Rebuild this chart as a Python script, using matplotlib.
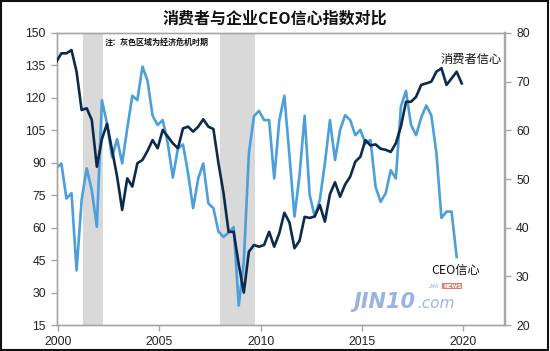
import matplotlib
matplotlib.use('Agg')
import matplotlib.pyplot as plt
from matplotlib.patches import Rectangle

# quarterly readings, first point Dec 1999
consumer = [136.7, 140.6, 140.6, 142.1, 132.1, 114.4, 115.2, 109.8, 88.2, 101.0,
            108.0, 95.9, 83.6, 68.2, 82.8, 79.0, 89.8, 91.3, 95.5, 100.5,
            96.7, 105.2, 102.1, 99.0, 96.7, 105.9, 106.7, 104.4, 106.7, 110.1,
            106.7, 105.6, 89.8, 75.9, 58.1, 58.1, 43.0, 30.0, 48.9, 52.0,
            51.2, 52.0, 58.1, 51.2, 57.4, 66.9, 62.5, 50.5, 54.0, 65.0,
            64.5, 65.2, 70.5, 62.8, 75.5, 81.0, 74.3, 80.0, 83.6, 90.5,
            92.8, 100.5, 98.0, 98.5, 96.5, 96.0, 95.0, 99.0, 106.7, 118.2,
            118.2, 120.5, 126.0, 126.7, 127.5, 132.1, 133.7, 126.0, 129.0, 132.1,
            126.7]
ceo = [52.2, 53.2, 46.0, 47.1, 31.2, 45.7, 52.2, 47.7, 40.2, 66.2,
       61.4, 54.5, 58.2, 53.2, 60.4, 67.1, 66.2, 73.1, 70.2, 63.0,
       61.1, 62.1, 57.3, 50.3, 56.3, 57.1, 51.2, 44.0, 50.1, 53.2,
       45.0, 44.0, 39.2, 38.1, 39.0, 40.1, 24.0, 33.0, 55.3, 62.9,
       64.0, 62.1, 62.1, 50.1, 62.0, 67.1, 54.9, 42.3, 50.8, 63.0,
       46.7, 42.3, 45.7, 53.2, 62.1, 53.9, 60.1, 63.1, 62.1, 59.0,
       60.1, 57.3, 58.0, 48.4, 45.3, 47.1, 51.8, 50.1, 64.9, 68.1,
       61.1, 59.0, 62.6, 65.1, 63.1, 55.4, 42.0, 43.3, 43.3, 34.0]
t_cons = [1999 + 11 / 12 + 0.25 * i for i in range(len(consumer))]
t_ceo = [1999 + 11 / 12 + 0.25 * i for i in range(len(ceo))]

recessions = [(2001.24, 2002.21), (2008.0, 2009.72)]
left_ticks = list(range(15, 151, 15))
right_ticks = list(range(20, 81, 10))
year_ticks = [2000, 2005, 2010, 2015, 2020]

cjk = ['Noto Sans CJK SC', 'DejaVu Sans']
navy = '#0c2a4c'
light = '#4b9fdb'
grey = '#a6a6a6'

fig = plt.figure(figsize=(5.5, 3.51), dpi=100)
ax = fig.add_axes([0.1036, 0.074, 0.8145, 0.832])
ax2 = ax.twinx()
ax.set_zorder(ax2.get_zorder() + 1)
ax.patch.set_visible(False)

for a, b in recessions:
    ax2.axvspan(a, b, color='#d9d9d9', lw=0, zorder=0)

ax2.plot(t_ceo, ceo, color=light, lw=1.9, zorder=2)
ax.plot(t_cons, consumer, color=navy, lw=1.9, zorder=3)

ax.set_xlim(1999.95, 2022.05)
ax.set_ylim(15, 150)
ax2.set_ylim(20, 80)
ax.set_xticks(year_ticks)
ax.set_yticks(left_ticks)
ax2.set_yticks(right_ticks)

for a in (ax, ax2):
    for s in a.spines.values():
        s.set_color(grey)
        s.set_linewidth(1.0)
    a.spines['right'].set_linewidth(1.6)
    a.tick_params(colors=grey, length=4, width=1.0, labelcolor='#222222',
                  labelsize=8.8, pad=4)
    for lab in a.get_xticklabels() + a.get_yticklabels():
        lab.set_family('Liberation Sans')

fig.text(0.5, 0.948, '消费者与企业CEO信心指数对比', ha='center', va='center',
         fontsize=11.5, fontweight='bold', family=cjk, color='#111111')
ax.text(2002.3, 145.5, '注：灰色区域为经济危机时期', ha='left', va='center',
        fontsize=5.8, fontweight='bold', family=cjk, color='#111111')
ax2.text(2020.4, 74.5, '消费者信心', ha='center', va='center',
         fontsize=8.8, family=cjk, color='#111111')
ax2.text(2019.6, 31.2, 'CEO信心', ha='center', va='center',
         fontsize=8.8, family=cjk, color='#111111')

# watermark
ax2.text(2014.6, 24.8, 'JIN10', ha='left', va='center', fontsize=15,
         fontweight='bold', style='italic', family='DejaVu Sans',
         color='#8aa6e0', alpha=0.85)
ax2.text(2017.7, 24.5, '.com', ha='left', va='center', fontsize=11,
         style='italic', family='DejaVu Sans', color='#8aa6e0', alpha=0.85)
ax2.text(2018.3, 28.0, '24h', ha='left', va='center', fontsize=4,
         style='italic', color='#8aa6e0')
ax2.text(2019.0, 28.0, 'NEWS', ha='left', va='center', fontsize=4,
         fontweight='bold', color='white',
         bbox=dict(boxstyle='square,pad=0.15', fc='#e8786a', ec='none'))

fig.patches.append(Rectangle((0.002, 0.003), 0.994, 0.994, transform=fig.transFigure,
                             fill=False, ec='#111111', lw=1.5))

fig.savefig('out.png', dpi=100)
